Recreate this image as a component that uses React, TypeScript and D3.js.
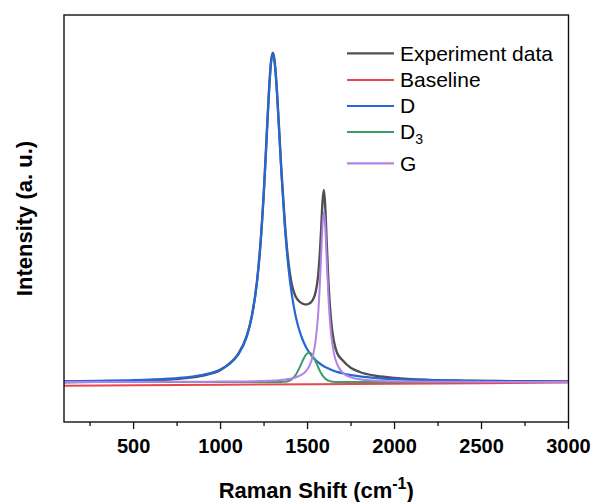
import React, { useEffect } from 'react';
import * as d3 from 'd3';

// Raman shift (cm-1) sample positions shared by all curves
const shifts = [100, 300, 500, 700, 800, 900, 1000, 1050, 1100, 1150, 1180, 1210, 1230, 1250, 1265, 1280, 1290,
  1300, 1310, 1320, 1335, 1350, 1370, 1390, 1410, 1430, 1450, 1470, 1490, 1510, 1530, 1545, 1560, 1570, 1578, 1586, 1594,
  1602, 1610, 1620, 1635, 1650, 1670, 1700, 1750, 1800, 1900, 2000, 2200, 2400, 2600, 2800, 3000];

// intensities (a. u.)
const experiment = [-0.2, 0.3, 0.9, 2.4, 3.9, 6.5, 12.0, 18.3, 27.6, 45.8, 66.3, 101.7, 139.8, 194.6, 245.9, 296.5, 320.4,
  329.4, 322.1, 302.0, 257.8, 210.5, 158, 120, 97, 86, 81, 78.5, 77.5, 78.5, 82, 89, 105, 127, 152, 180, 192,
  174, 140, 100, 62, 42, 29, 22, 14, 10, 6, 4, 2.1, 1.4, 1.0, 0.7, 0.6];
const dBand = [0.8, 1.2, 1.8, 3.3, 4.7, 7.2, 12.6, 17.9, 27.1, 45.2, 65.6, 100.9, 138.9, 193.6, 244.8, 295.2, 319.1,
  328, 320.6, 300.4, 256.0, 208.4, 154.4, 114.7, 86.8, 67.2, 53.2, 43.0, 35.3, 29.5, 25.0, 22.2, 19.9, 18.5, 17.5, 16.6, 15.7,
  14.9, 14.2, 13.4, 12.3, 11.3, 10.1, 8.7, 6.9, 5.6, 3.9, 2.9, 1.8, 1.2, 0.8, 0.6, 0.5];
const d3Band = [0, 0, 0, 0, 0, 0, 0, 0, 0, 0, 0, 0, 0, 0, 0, 0, 0,
  0, 0, 0, 0, 0.1, 0.3, 1.0, 2.8, 6.6, 12.9, 20.6, 27.2, 29.5, 26.2, 21.0, 15.1, 11.4, 8.8, 6.6, 4.8,
  3.3, 2.3, 1.3, 0.6, 0.2, 0, 0, 0, 0, 0, 0, 0, 0, 0, 0, 0];
const gBand = [0.1, 0.1, 0.1, 0.2, 0.2, 0.3, 0.4, 0.4, 0.5, 0.6, 0.7, 0.8, 0.9, 1.0, 1.1, 1.3, 1.3,
  1.4, 1.5, 1.6, 1.8, 2.1, 2.4, 2.9, 3.6, 4.5, 5.8, 7.7, 10.7, 15.9, 25.7, 39.6, 65.7, 95.0, 125.8, 156.3, 170,
  155.3, 123.3, 85.0, 48.8, 30.1, 17.8, 9.7, 4.6, 2.7, 1.2, 0.7, 0.3, 0.2, 0.1, 0.1, 0.1];

const baselineShifts = [100, 1000, 2000, 3000];
const baselineValues = [-3.7, -2.8, -1.7, -0.6];

const xTicks = [500, 1000, 1500, 2000, 2500, 3000];
const xMinorTicks = [250, 750, 1250, 1750, 2250, 2750];

const W = 593;
const H = 502;
const left = 64;
const right = 568.5;
const top = 15;
const bottom = 422;

const font = 'Arial, "Liberation Sans", sans-serif';

export default function App() {
  useEffect(() => {
    document.body.style.margin = '0';
  }, []);

  const x = d3.scaleLinear().domain([100, 3000]).range([left, right]);
  const y = d3.scaleLinear().domain([-40, 367]).range([bottom, top]);

  const line = d3.line<[number, number]>()
    .x((d) => x(d[0]))
    .y((d) => y(d[1]))
    .curve(d3.curveMonotoneX);

  const series = [
    { name: 'Experiment data', values: experiment, xs: shifts, color: '#505050', width: 2.4 },
    { name: 'Baseline', values: baselineValues, xs: baselineShifts, color: '#e8484d', width: 2 },
    { name: 'D', values: dBand, xs: shifts, color: '#2467d6', width: 2.2 },
    { name: 'D3', values: d3Band, xs: shifts, color: '#3b9d6b', width: 2 },
    { name: 'G', values: gBand, xs: shifts, color: '#b482e6', width: 2 },
  ];

  const legendRows = [53.3, 80, 106, 132, 163.3];

  return (
    <svg width={W} height={H} style={{ display: 'block', background: '#fff' }} fontFamily={font}>
      <defs>
        <clipPath id="plot">
          <rect x={left} y={top} width={right - left} height={bottom - top} />
        </clipPath>
      </defs>

      <g clipPath="url(#plot)">
        {series.map((s) => (
          <path
            key={s.name}
            d={line(s.xs.map((v, i) => [v, s.values[i]] as [number, number])) || ''}
            fill="none"
            stroke={s.color}
            strokeWidth={s.width}
            strokeLinejoin="round"
          />
        ))}
      </g>

      <rect x={left} y={top} width={right - left} height={bottom - top} fill="none" stroke="#111" strokeWidth={1.4} />

      {xTicks.map((t) => (
        <g key={t}>
          <line x1={x(t)} x2={x(t)} y1={bottom} y2={bottom + 7} stroke="#111" strokeWidth={1.3} />
          <text x={x(t)} y={bottom + 31} textAnchor="middle" fontSize={20} fontWeight="bold">{t}</text>
        </g>
      ))}
      {xMinorTicks.map((t) => (
        <line key={t} x1={x(t)} x2={x(t)} y1={bottom} y2={bottom + 4} stroke="#111" strokeWidth={1.3} />
      ))}

      <text x={(left + right) / 2} y={498} textAnchor="middle" fontSize={22} fontWeight="bold">
        Raman Shift (cm<tspan dy={-9} fontSize={16}>-1</tspan><tspan dy={9}>)</tspan>
      </text>

      <text
        transform={`translate(32, ${(top + bottom) / 2}) rotate(-90)`}
        textAnchor="middle"
        fontSize={22}
        fontWeight="bold"
      >
        Intensity (a. u.)
      </text>

      {series.map((s, i) => (
        <g key={s.name}>
          <line x1={347} x2={394} y1={legendRows[i]} y2={legendRows[i]} stroke={s.color} strokeWidth={2.2} />
          <text x={400} y={legendRows[i] + 7.4} fontSize={21}>
            {s.name === 'D3' ? (
              <>D<tspan dy={5} fontSize={14}>3</tspan></>
            ) : s.name}
          </text>
        </g>
      ))}
    </svg>
  );
}
